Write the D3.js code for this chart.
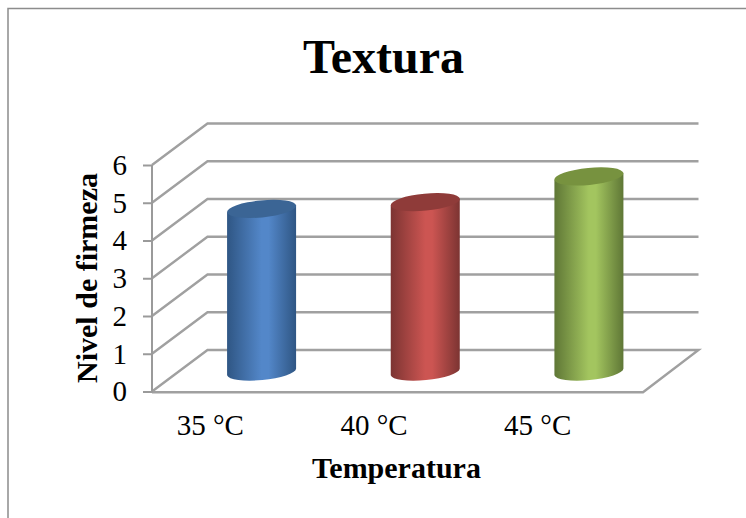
<!DOCTYPE html>
<html lang="en">
<head>
    <meta charset="UTF-8">
    <title>Textura</title>
    <script src="https://d3js.org/d3.v7.min.js"></script>
    <style>
        html, body { margin: 0; padding: 0; background: #fff; overflow: hidden; }
        svg { display: block; }
        text { font-family: "Liberation Serif", serif; fill: #000; }
        .tick text { font-size: 29px; font-family: "Liberation Serif", serif; fill: #000; }
        .tick line { stroke: #9a9a9a; stroke-width: 2px; }
        .grid { stroke: #a0a0a0; stroke-width: 2.4px; fill: none; }
        .title { font-size: 48px; font-weight: bold; }
        .axis-label { font-size: 30px; font-weight: bold; }
    </style>
</head>
<body>
    <svg width="746" height="518"></svg>

    <script>
        var categories = ["35 °C", "40 °C", "45 °C"];
        var values = [4.32, 4.5, 5.18];
        var yTicks = [0, 1, 2, 3, 4, 5, 6];
        var barColors = [
            { edge: "#2f5684", mid: "#5387c9", top: "#3b6595" },
            { edge: "#7c3432", mid: "#cc5552", top: "#8f3b39" },
            { edge: "#5f7736", mid: "#a3c55f", top: "#77923f" }
        ];

        var left = 152, right = 643, yBase = 391.5, yTop = 165;
        var depthX = 55.5, depthY = -41.5;
        var barDepth = 0.5, barWidth = 69, tilt = -5.5, ry = 8.5;

        var svg = d3.select("svg");

        var x = d3.scaleBand().domain(categories).range([left, right]);
        var y = d3.scaleLinear().domain([0, 6]).range([yBase, yTop]);

        // page frame, right side runs off the window
        svg.append("path")
           .attr("d", "M8,518V8.5H746")
           .attr("fill", "none")
           .attr("stroke", "#8c8c8c")
           .attr("stroke-width", 1.5);

        svg.append("text")
           .attr("class", "title")
           .attr("x", 383.5)
           .attr("y", 73)
           .attr("text-anchor", "middle")
           .text("Textura");

        // left wall and back wall gridlines
        var grid = svg.append("g");
        yTicks.forEach(function(t) {
            if (t === 0) return;
            grid.append("path")
                .attr("class", "grid")
                .attr("d", "M" + left + "," + y(t) + "L" + (left + depthX) + "," + (y(t) + depthY) + "H" + (right + depthX));
        });

        // floor
        grid.append("path")
            .attr("class", "grid")
            .attr("d", "M" + left + "," + y(0) + "L" + (left + depthX) + "," + (y(0) + depthY) + "H" + (right + depthX) +
                       "L" + right + "," + (y(0) + 0.8) + "H" + left);

        var yAxis = svg.append("g")
           .attr("transform", "translate(" + left + ",0)")
           .call(d3.axisLeft(y).tickValues(yTicks).tickSize(9).tickPadding(16).tickFormat(d3.format("d")));
        yAxis.select(".domain").attr("stroke", "#9a9a9a").attr("stroke-width", 2).attr("d", "M0," + yTop + "V" + (yBase + 1));
        yAxis.selectAll(".tick text").attr("dy", "0.32em");

        var xAxis = svg.append("g")
           .attr("transform", "translate(-23.5," + (yBase + 15) + ")")
           .call(d3.axisBottom(x).tickSize(0).tickPadding(0));
        xAxis.select(".domain").remove();
        xAxis.selectAll(".tick text").attr("dy", "0.97em");

        svg.append("text")
           .attr("class", "axis-label")
           .attr("x", 396.5)
           .attr("y", 478)
           .attr("text-anchor", "middle")
           .text("Temperatura");

        svg.append("text")
           .attr("class", "axis-label")
           .attr("transform", "translate(97,278) rotate(-90)")
           .attr("text-anchor", "middle")
           .text("Nivel de firmeza");

        // cylinder shading
        var defs = svg.append("defs");
        barColors.forEach(function(c, i) {
            var g = defs.append("linearGradient").attr("id", "cyl" + i);
            g.append("stop").attr("offset", "0%").attr("stop-color", c.edge);
            g.append("stop").attr("offset", "50%").attr("stop-color", c.mid);
            g.append("stop").attr("offset", "60%").attr("stop-color", c.mid);
            g.append("stop").attr("offset", "100%").attr("stop-color", c.edge);
        });

        var rx = barWidth / 2 + 0.2;
        var slope = Math.tan(tilt * Math.PI / 180) * (barWidth / 2);
        var bars = svg.selectAll(".bar")
            .data(values)
            .enter().append("g")
            .attr("class", "bar");

        bars.append("path")
            .attr("fill", function(d, i) { return "url(#cyl" + i + ")"; })
            .attr("d", function(d, i) {
                var cx = x(categories[i]) + x.bandwidth() / 2 + depthX * barDepth;
                var y0 = y(0) + depthY * 0.47, y1 = y(d) + depthY * 0.47;
                var arc = "A" + rx + "," + ry + " " + tilt + " 0 0 ";
                return "M" + (cx - barWidth / 2) + "," + (y1 - slope) +
                       "V" + (y0 - slope) + arc + (cx + barWidth / 2) + "," + (y0 + slope) +
                       "V" + (y1 + slope) + "Z";
            });

        bars.append("ellipse")
            .attr("fill", function(d, i) { return barColors[i].top; })
            .attr("rx", rx)
            .attr("ry", ry)
            .attr("transform", function(d, i) {
                var cx = x(categories[i]) + x.bandwidth() / 2 + depthX * barDepth;
                return "translate(" + cx + "," + (y(d) + depthY * 0.47) + ") rotate(" + tilt + ")";
            });
    </script>
</body>
</html>
